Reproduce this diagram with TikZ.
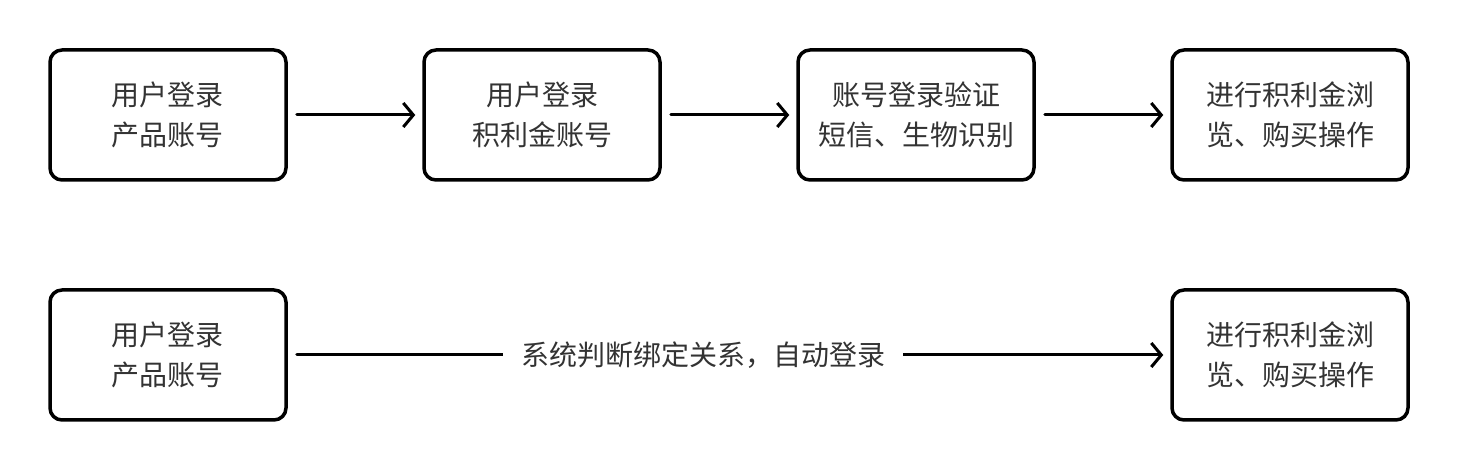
\documentclass[tikz,border=0pt]{standalone}
\usepackage{fontspec}
\newfontfamily\cjk{Noto Sans CJK SC}
\usetikzlibrary{arrows.meta}

\begin{document}
\begin{tikzpicture}[
      x=0.5pt, y=-0.5pt,
      stepbox/.style={draw=black, line width=1.75pt, rounded corners=6pt,
        minimum width=118pt, minimum height=65pt, align=center,
        text=black!80, font=\cjk\fontsize{14}{20}\selectfont},
      conn/.style={line width=1.5pt, line cap=round,
        -{Straight Barb[length=5pt,width=12pt,line width=1.5pt]},
        shorten <=4.5pt, shorten >=3.5pt},
      clabel/.style={fill=white, inner xsep=9pt, text=black!80,
        font=\cjk\fontsize{14}{20}\selectfont},
      ]
      \useasboundingbox (0,0) rectangle (1458,470);
      \def\colA{168}
      \def\colB{542}
      \def\colC{916}
      \def\colD{1290}
      \def\rowA{115}
      \def\rowB{355}

      % top row
      \node[stepbox] (login) at (\colA,\rowA) {用户登录\\产品账号};
      \node[stepbox] (points) at (\colB,\rowA) {用户登录\\积利金账号};
      \node[stepbox] (verify) at (\colC,\rowA) {账号登录验证\\短信、生物识别};
      \node[stepbox] (browse) at (\colD,\rowA) {进行积利金浏\\览、购买操作};
      \draw[conn] (login) -- (points);
      \draw[conn] (points) -- (verify);
      \draw[conn] (verify) -- (browse);

      % bottom row
      \node[stepbox] (loginB) at (\colA,\rowB) {用户登录\\产品账号};
      \node[stepbox] (browseB) at (\colD,\rowB) {进行积利金浏\\览、购买操作};
      \draw[conn] (loginB) -- node[clabel, pos=0.471] (auto) {系统判断绑定关系，自动登录} (browseB);
    \end{tikzpicture}
\end{document}
